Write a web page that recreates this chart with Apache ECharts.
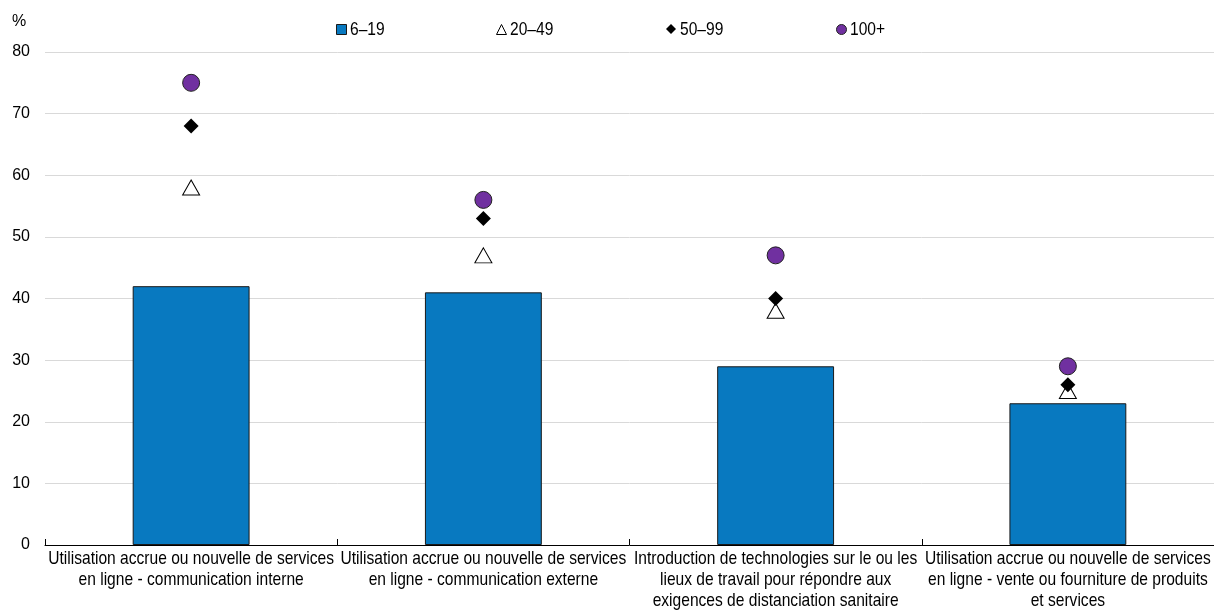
<!DOCTYPE html>
<html>
<head>
<meta charset="utf-8">
<script src="https://cdn.jsdelivr.net/npm/echarts@6/dist/echarts.min.js"></script>
<style>
  html, body { margin: 0; padding: 0; background: #fff; }
  #chart { width: 1214px; height: 613px; }
</style>
</head>
<body>
<div id="chart"></div>
<script>
// Firm-size groups and shares (%) by type of digital adoption
const categories = [
  "Utilisation accrue ou nouvelle de services\nen ligne - communication interne",
  "Utilisation accrue ou nouvelle de services\nen ligne - communication externe",
  "Introduction de technologies sur le ou les\nlieux de travail pour répondre aux\nexigences de distanciation sanitaire",
  "Utilisation accrue ou nouvelle de services\nen ligne - vente ou fourniture de produits\net services"
];
const seriesNames = ["6–19", "20–49", "50–99", "100+"];
const size6to19 = [42, 41, 29, 23];
const size20to49 = [58, 47, 38, 25];
const size50to99 = [68, 53, 40, 26];
const size100plus = [75, 56, 47, 29];
const yTicks = [0, 10, 20, 30, 40, 50, 60, 70, 80];

const FONT = "'Liberation Sans', Arial, sans-serif";
// condensed look for category and legend labels: regular sans squeezed horizontally
const NARROW = 0.82;
const chart = echarts.init(document.getElementById("chart"), null, { renderer: "canvas" });

const legendX = [336, 496, 666, 836];
const legendIcons = ["rect", "triangle", "diamond", "circle"];

chart.setOption({
  animation: false,
  textStyle: { fontFamily: FONT },
  grid: { left: 45, right: 0, top: 52, bottom: 68, outerBoundsMode: "none" },
  // legend keeps only the symbols; its names are drawn below as condensed text
  legend: seriesNames.map((n, i) => ({
    data: [{ name: n, icon: legendIcons[i] }],
    left: legendX[i],
    top: 24,
    padding: 0,
    itemWidth: 10,
    itemHeight: 10,
    itemGap: 0,
    itemStyle: { borderWidth: 1 },
    formatter: () => "",
    textStyle: { fontSize: 12, padding: 0 },
    selectedMode: false
  })),
  xAxis: {
    type: "category",
    data: categories,
    axisLine: { lineStyle: { color: "#000", width: 1 } },
    axisTick: { show: true, inside: true, length: 6, alignWithLabel: false, lineStyle: { color: "#000" } },
    axisLabel: { show: false }
  },
  yAxis: {
    type: "value",
    min: yTicks[0],
    max: yTicks[yTicks.length - 1],
    interval: 10,
    axisLine: { show: false },
    axisTick: { show: false },
    splitLine: { lineStyle: { color: "#d9d9d9", width: 1 } },
    axisLabel: { show: false }
  },
  series: [
    {
      name: seriesNames[0],
      type: "bar",
      data: size6to19,
      barWidth: "40%",
      itemStyle: { color: "#0879c0", borderColor: "#1a1a1a", borderWidth: 1, opacity: 1 },
      z: 1
    },
    {
      name: seriesNames[1],
      type: "scatter",
      data: size20to49,
      symbol: "triangle",
      symbolSize: [17, 15],
      itemStyle: { color: "#ffffff", borderColor: "#000", borderWidth: 1, opacity: 1 },
      z: 3
    },
    {
      name: seriesNames[2],
      type: "scatter",
      data: size50to99,
      symbol: "diamond",
      symbolSize: 15,
      itemStyle: { color: "#000000", borderWidth: 0, opacity: 1 },
      z: 4
    },
    {
      name: seriesNames[3],
      type: "scatter",
      data: size100plus,
      symbol: "circle",
      symbolSize: 17,
      itemStyle: { color: "#7030a0", borderColor: "#222", borderWidth: 1, opacity: 1 },
      z: 5
    }
  ]
});

// Text elements placed through the chart's own scales
const labels = [];
const baseY = chart.convertToPixel({ yAxisIndex: 0 }, 0);
categories.forEach((c, i) => {
  const px = chart.convertToPixel({ xAxisIndex: 0 }, i);
  labels.push({
    type: "text",
    x: px,
    y: baseY + 3,
    scaleX: NARROW,
    style: {
      text: c,
      font: "19px " + FONT,
      fill: "#000",
      align: "center",
      verticalAlign: "top",
      lineHeight: 21
    }
  });
});
yTicks.forEach(v => {
  const py = chart.convertToPixel({ yAxisIndex: 0 }, v);
  labels.push({
    type: "text",
    x: 30,
    y: py,
    style: { text: String(v), font: "16px " + FONT, fill: "#000", align: "right", verticalAlign: "middle" }
  });
});
seriesNames.forEach((n, i) => {
  labels.push({
    type: "text",
    x: legendX[i] + 14,
    y: 30,
    scaleX: NARROW,
    style: { text: n, font: "19px " + FONT, fill: "#000", align: "left", verticalAlign: "middle" }
  });
});
labels.push({
  type: "text",
  x: 12,
  y: 22,
  style: { text: "%", font: "16px " + FONT, fill: "#000", align: "left", verticalAlign: "middle" }
});
chart.setOption({ graphic: labels });
</script>
</body>
</html>
